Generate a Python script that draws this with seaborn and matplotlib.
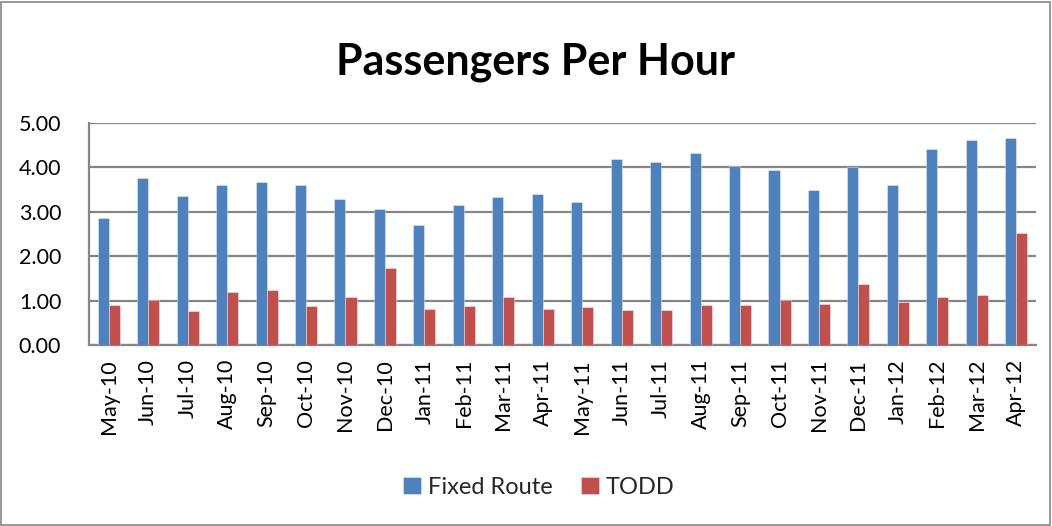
import matplotlib
matplotlib.use("Agg")
import matplotlib.pyplot as plt
import seaborn as sns
import pandas as pd
from matplotlib.patches import Rectangle

months = ["May-10", "Jun-10", "Jul-10", "Aug-10", "Sep-10", "Oct-10", "Nov-10", "Dec-10",
          "Jan-11", "Feb-11", "Mar-11", "Apr-11", "May-11", "Jun-11", "Jul-11", "Aug-11",
          "Sep-11", "Oct-11", "Nov-11", "Dec-11", "Jan-12", "Feb-12", "Mar-12", "Apr-12"]
fixed_route = [2.86, 3.77, 3.35, 3.61, 3.68, 3.61, 3.29, 3.06, 2.70, 3.16, 3.33, 3.39,
               3.21, 4.20, 4.13, 4.32, 4.03, 3.94, 3.50, 4.01, 3.61, 4.42, 4.62, 4.66]
todd = [0.90, 1.01, 0.76, 1.20, 1.23, 0.87, 1.08, 1.73, 0.81, 0.88, 1.08, 0.81,
        0.85, 0.79, 0.79, 0.89, 0.90, 1.01, 0.92, 1.37, 0.97, 1.09, 1.12, 2.53]
series_names = ["Fixed Route", "TODD"]
y_ticks = [0.0, 1.0, 2.0, 3.0, 4.0, 5.0]

df = pd.DataFrame({
    "Month": months * 2,
    "Value": fixed_route + todd,
    "Series": [series_names[0]] * len(months) + [series_names[1]] * len(months),
})

sns.set_theme(style="white")
plt.rcParams["font.family"] = ["Lato", "DejaVu Sans"]

fig = plt.figure(figsize=(10.52, 5.26), dpi=100)
ax = fig.add_axes([89 / 1052, 1 - 345 / 526, (1036 - 89) / 1052, (345 - 123) / 526])

grid_c = "#868686"
sns.barplot(data=df, x="Month", y="Value", hue="Series", order=months,
            hue_order=series_names, palette=["#4F81BD", "#C0504D"],
            saturation=1, width=0.56, ax=ax, legend=True, zorder=3,
            edgecolor=(1, 1, 1, 0.45), linewidth=0.6)

ax.set_ylim(0, 5)
ax.set_xlim(-0.5, len(months) - 0.5)
ax.set_yticks(y_ticks)
ax.set_yticklabels([f"{v:.2f}" for v in y_ticks], fontsize=15.5, color="black")
ax.set_xticks(range(len(months)))
ax.set_xticklabels(months, rotation=90, fontsize=15.5, color="black")
ax.set_xticks([i - 0.5 for i in range(len(months) + 1)], minor=True)
ax.tick_params(axis="x", which="major", length=0, pad=10)
ax.tick_params(axis="x", which="minor", length=6, width=1.5, color=grid_c, direction="out")
ax.tick_params(axis="y", length=6, width=1.5, color=grid_c, direction="out", pad=14)
ax.set_xlabel("")
ax.set_ylabel("")
ax.grid(axis="y", color=grid_c, linewidth=1.6, zorder=0)
ax.set_axisbelow(True)
for s in ["top", "right"]:
    ax.spines[s].set_visible(False)
for s in ["left", "bottom"]:
    ax.spines[s].set_color(grid_c)
    ax.spines[s].set_linewidth(1.6)

handles, labels = ax.get_legend_handles_labels()
ax.legend_.remove()
fig.legend(handles, labels, loc="center", bbox_to_anchor=(539 / 1052, 1 - 487 / 526),
           ncol=2, frameon=False, fontsize=17, handlelength=0.75, handleheight=0.75,
           columnspacing=1.2, handletextpad=0.3)

fig.text(535 / 1052, 1 - 62 / 526, "Passengers Per Hour", ha="center", va="center",
         fontsize=31, fontweight="bold", color="black")

fig.patches.append(Rectangle((0.001, 0.002), 0.997, 0.995, transform=fig.transFigure,
                             fill=False, edgecolor="#888888", linewidth=1.2))

fig.savefig("out.png", dpi=100)
